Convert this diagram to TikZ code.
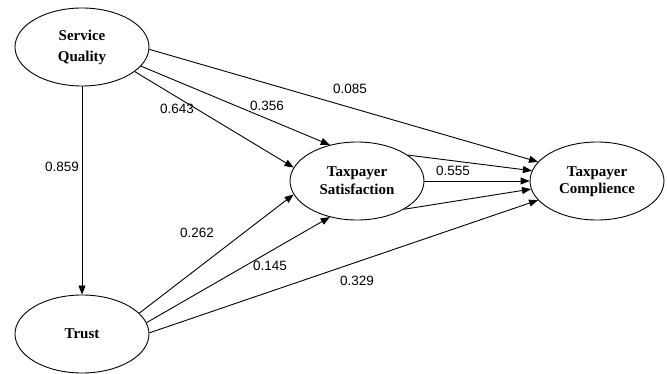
\documentclass[tikz,border=0pt]{standalone}
\usepackage{fontspec}
\setmainfont{Liberation Serif}
\newfontfamily\labelfont{Liberation Sans}
\usetikzlibrary{shapes.geometric,arrows.meta}
\begin{document}
\begin{tikzpicture}[x=1pt,y=-1pt,
  construct/.style={draw, line width=0.9pt, ellipse, minimum width=134pt, minimum height=78pt, inner sep=0pt,
    align=center, font=\fontsize{15}{18}\selectfont\bfseries},
  path/.style={draw, line width=0.9pt, -{Triangle[length=9pt,width=7pt]}},
  coef/.style={font=\fontsize{13.5}{15}\labelfont, inner sep=0pt}]
\useasboundingbox (0,0) rectangle (667,374);
\fill[white] (0,0) rectangle (667,374);
\node[construct, font=\fontsize{15}{21}\selectfont\bfseries] (sq) at (82,47) {Service\\Quality};
\node[construct] (tr) at (82,334) {Trust};
\node[construct] (ts) at (357,181) {Taxpayer\\Satisfaction};
\node[construct] (tc) at (597,181) {\raisebox{4pt}{\begin{tabular}{@{}c@{}}Taxpayer\\[-1pt]Complience\end{tabular}}};

\draw[path] (sq.south) -- (tr.north);
\draw[path] (sq.-2.5) -- (tc.162);
\draw[path] (sq.-18.4) -- (ts.127);
\draw[path] (sq.-25) -- (ts.168);
\draw[path] (tr.20) -- (ts.192);
\draw[path] (tr.10) -- (ts.233);
\draw[path] (tr.1) -- (tc.198);
\draw[path] (ts.27.5) -- (tc.171);
\draw[path] (ts.east) -- (tc.west);
\draw[path] (ts.-31) -- (tc.187.4);

\node[coef] (l1) at (62,167) {0.859};
\node[coef] (l2) at (177,109) {0.643};
\node[coef] (l3) at (267,106) {0.356};
\node[coef] (l4) at (350,89) {0.085};
\node[coef] (l5) at (453,171) {0.555};
\node[coef] (l6) at (197,233) {0.262};
\node[coef] (l7) at (270,266) {0.145};
\node[coef] (l8) at (357,281) {0.329};
\end{tikzpicture}
\end{document}
